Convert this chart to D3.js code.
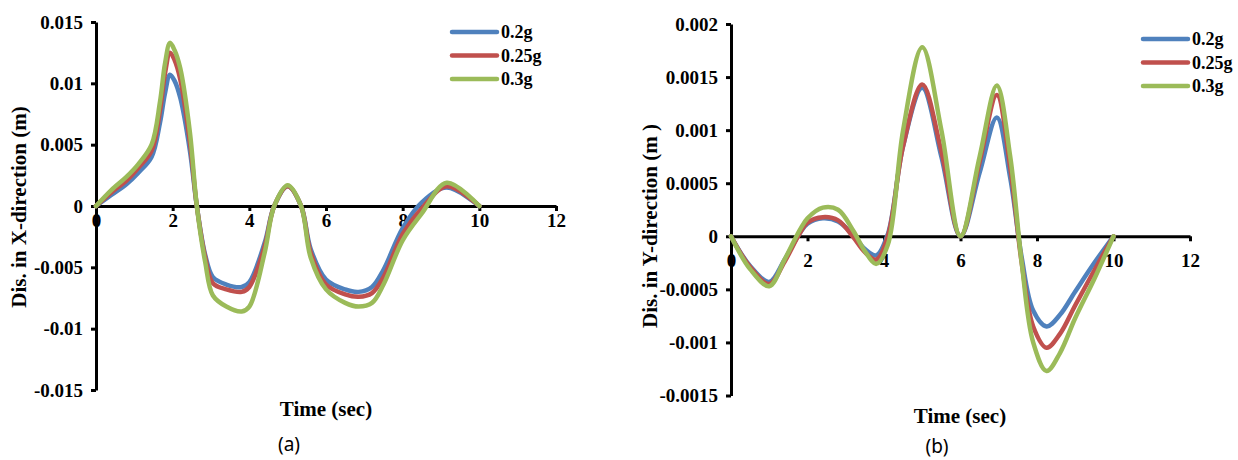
<!DOCTYPE html>
<html lang="en">
<head>
  <meta charset="UTF-8">
  <title>Displacement vs time</title>
  <style>
    html, body {
      margin: 0;
      padding: 0;
      background-color: #fff;
    }

    svg text {
      font-family: "Liberation Serif", "Times New Roman", serif;
      font-weight: bold;
      fill: #000;
    }

    .axis path,
    .axis line {
      stroke: #000;
      stroke-width: 3;
    }

    .axis text {
      font-family: "Liberation Serif", "Times New Roman", serif;
      font-size: 19px;
    }

    .title {
      font-size: 21px;
    }

    .legend text {
      font-size: 18px;
    }

    svg text.caption {
      font-family: "Noto Sans", "Liberation Sans", sans-serif;
      font-weight: normal;
      font-size: 19px;
    }

    .series {
      fill: none;
      stroke-width: 4.5;
      stroke-linejoin: round;
      stroke-linecap: round;
    }
  </style>
</head>
<body>
  <script src="https://cdn.jsdelivr.net/npm/d3@7"></script>
  <script>
    const width = 1238,
          height = 460

    // series names and colours (Excel defaults)
    const seriesNames = ['0.2g', '0.25g', '0.3g']
    const seriesColors = ['#4f81bd', '#c0504d', '#9bbb59']

    const timeTicks = [0, 2, 4, 6, 8, 10, 12]
    const xDirTicks = [0.015, 0.01, 0.005, 0, -0.005, -0.01, -0.015]
    const yDirTicks = [0.002, 0.0015, 0.001, 0.0005, 0, -0.0005, -0.001, -0.0015]

    // (a) displacement in X-direction
    const timeA  = [0, 0.4, 0.8, 1.1, 1.45, 1.67, 1.8, 1.93, 2.05, 2.2, 2.45, 2.63, 2.85, 3.05, 3.4, 3.8, 4.0, 4.4, 4.65, 5.0, 5.35, 5.6, 6.0, 6.5, 6.85, 7.2, 7.5, 8.0, 8.5, 9.15, 10]
    const xBlue  = [0, 0.0009, 0.0018, 0.0027, 0.0040, 0.0068, 0.0092, 0.0107, 0.0102, 0.0088, 0.0045, 0, -0.0040, -0.0058, -0.0064, -0.0066, -0.0062, -0.0030, 0, 0.0016, 0, -0.0035, -0.0060, -0.0068, -0.0070, -0.0066, -0.0052, -0.0018, 0.0003, 0.0015, 0]
    const xRed   = [0, 0.0011, 0.0021, 0.0031, 0.0045, 0.0078, 0.0108, 0.0125, 0.0119, 0.0103, 0.0052, 0, -0.0042, -0.0063, -0.0068, -0.0070, -0.0066, -0.0033, 0, 0.0016, 0, -0.0038, -0.0064, -0.0072, -0.0074, -0.0071, -0.0058, -0.0023, -0.0002, 0.0016, 0]
    const xGreen = [0, 0.0013, 0.0024, 0.0034, 0.0050, 0.0085, 0.0116, 0.0133, 0.0127, 0.0112, 0.0060, 0, -0.0046, -0.0073, -0.0082, -0.0086, -0.0082, -0.0038, 0, 0.0017, 0, -0.0042, -0.0068, -0.0079, -0.0082, -0.0079, -0.0064, -0.0028, -0.0006, 0.0019, 0]

    // (b) displacement in Y-direction
    const timeB  = [0, 0.5, 1.0, 1.4, 1.8, 2.0, 2.4, 2.8, 3.2, 3.5, 3.8, 4.1, 4.5, 5.0, 5.5, 6.0, 6.5, 6.95, 7.3, 7.6, 7.9, 8.25, 8.6, 9.0, 9.5, 10]
    const yBlue  = [0, -0.00028, -0.00043, -0.00022, 0.00003, 0.00012, 0.00017, 0.00014, 0.00001, -0.00012, -0.00018, 0.00002, 0.00085, 0.00140, 0.00075, 0, 0.00060, 0.00112, 0.00055, -0.00020, -0.00070, -0.00085, -0.00074, -0.00052, -0.00025, 0]
    const yRed   = [0, -0.00029, -0.00045, -0.00024, 0.00003, 0.00013, 0.00018, 0.00015, -0.00001, -0.00015, -0.00022, 0, 0.00085, 0.00143, 0.00080, 0, 0.00070, 0.00133, 0.00065, -0.00025, -0.00085, -0.00105, -0.00092, -0.00065, -0.00032, 0]
    const yGreen = [0, -0.00031, -0.00047, -0.00022, 0.00006, 0.00017, 0.00027, 0.00025, 0.00005, -0.00014, -0.00026, -0.00008, 0.00100, 0.00178, 0.00100, 0, 0.00075, 0.00142, 0.00075, -0.00025, -0.00100, -0.00127, -0.00110, -0.00077, -0.00040, 0]

    const svg = d3.select('body')
      .append('svg')
      .attr('width', width)
      .attr('height', height)

    const fmt = d => String(+d.toFixed(4))

    const drawPanel = panel => {
      const x = d3.scaleLinear().domain([0, 12]).range(panel.xRange)
      const y = d3.scaleLinear().domain(panel.yDomain).range(panel.yRange)
      const g = svg.append('g')

      g.append('g')
        .attr('class', 'axis')
        .attr('transform', `translate(${x(0)},0)`)
        .call(d3.axisLeft(y).tickValues(panel.yTicks).tickFormat(fmt).tickSize(5).tickSizeOuter(0).tickPadding(8))

      g.append('g')
        .attr('class', 'axis')
        .attr('transform', `translate(0,${y(0)})`)
        .call(d3.axisBottom(x).tickValues(timeTicks).tickSize(5).tickSizeOuter(0).tickPadding(panel.xPad))

      // lines go on top of the axes, like in the original
      const line = d3.line()
        .x((d, i) => x(panel.time[i]))
        .y(d => y(d))
        .curve(d3.curveCatmullRom.alpha(0.5))

      g.selectAll('.series')
        .data(panel.series)
        .enter()
          .append('path')
          .attr('class', 'series')
          .attr('stroke', (d, i) => seriesColors[i])
          .attr('d', line)

      // legend
      const legend = g.append('g').attr('class', 'legend')
      seriesNames.forEach((name, i) => {
        const ly = panel.legend[1] + i * 23.5
        legend.append('line')
          .attr('x1', panel.legend[0]).attr('x2', panel.legend[0] + 45)
          .attr('y1', ly).attr('y2', ly)
          .attr('stroke', seriesColors[i])
          .attr('stroke-width', 4.5)
          .attr('stroke-linecap', 'round')
        legend.append('text')
          .attr('x', panel.legend[0] + 49)
          .attr('y', ly)
          .attr('dy', '0.35em')
          .text(name)
      })

      g.append('text')
        .attr('class', 'title')
        .attr('transform', `translate(${panel.yTitle[0]},${panel.yTitle[1]}) rotate(-90)`)
        .attr('text-anchor', 'middle')
        .attr('dy', '0.35em')
        .text(panel.yLabel)

      g.append('text')
        .attr('class', 'title')
        .attr('x', panel.xTitle[0])
        .attr('y', panel.xTitle[1])
        .attr('text-anchor', 'middle')
        .attr('dy', '0.35em')
        .text('Time (sec)')

      g.append('text')
        .attr('class', 'caption')
        .attr('x', panel.caption[0])
        .attr('y', panel.caption[1])
        .attr('text-anchor', 'middle')
        .attr('dy', '0.35em')
        .text(panel.captionText)
    }

    drawPanel({
      time: timeA,
      series: [xBlue, xRed, xGreen],
      xRange: [96, 556],
      yDomain: [-0.015, 0.015],
      yRange: [390, 22],
      yTicks: xDirTicks,
      xPad: 3,
      legend: [452, 32],
      yLabel: 'Dis. in X-direction (m)',
      yTitle: [19, 207],
      xTitle: [326, 409],
      caption: [289, 444],
      captionText: '(a)'
    })

    drawPanel({
      time: timeB,
      series: [yBlue, yRed, yGreen],
      xRange: [731, 1190],
      yDomain: [-0.0015, 0.002],
      yRange: [395.5, 24],
      yTicks: yDirTicks,
      xPad: 12,
      legend: [1143, 39],
      yLabel: 'Dis. in Y-direction (m )',
      yTitle: [650, 226],
      xTitle: [960, 416],
      caption: [937, 446],
      captionText: '(b)'
    })
  </script>
</body>
</html>
